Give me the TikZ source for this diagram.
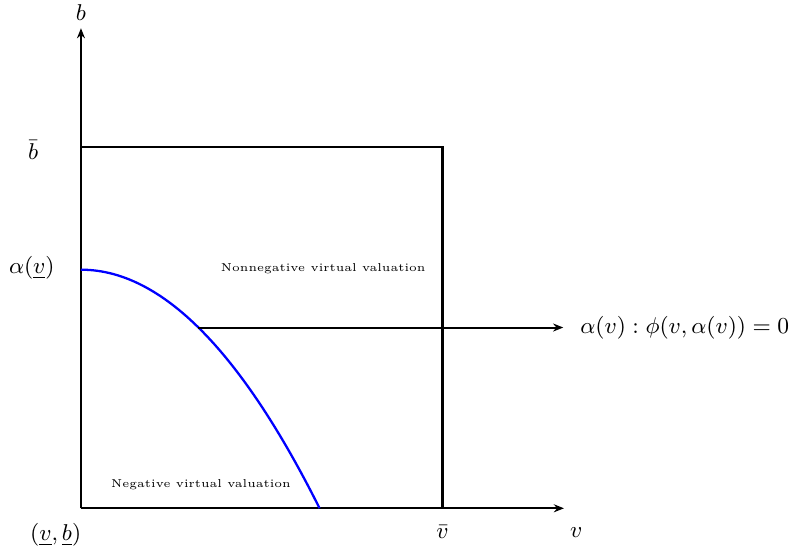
\documentclass[tikz,border=0pt]{standalone}
\usepackage{amsmath,amssymb}
\usepackage{tikz}
\usetikzlibrary{positioning,arrows.meta,calc}

\begin{document}
\begin{tikzpicture}[
  every node/.style={font=\fontsize{9.5}{11}\selectfont},
  ax/.style={-{Stealth[length=1.4mm,width=1.1mm]}, line width=0.8pt},
  bd/.style={line width=0.8pt},
  cv/.style={blue, line width=0.9pt},
  lbl/.style={font=\fontsize{4.5}{5.5}\selectfont},
]
  \useasboundingbox (-1.12,-0.595) rectangle (9.82,7.03);

  % Axes
  \coordinate (O) at (0,0);
  \coordinate (xend) at (6.68,0);
  \coordinate (yend) at (0,6.64);
  \draw[ax] (O) -- (xend);
  \draw[ax] (O) -- (yend);
  \node (blab) at (0,6.86) {$b$};
  \node (vlab) at (6.85,-0.33) {$v$};
  \node (olab) at (-0.35,-0.37) {$(\underline{v},\underline{b})$};

  % Upper bounds
  \coordinate (btop) at (0,5);
  \coordinate (corner) at (5,5);
  \coordinate (vtop) at (5,0);
  \draw[bd] (btop) -- (corner) -- (vtop);
  \node (bbar) at (-0.66,4.96) {$\bar{b}$};
  \node (vbar) at (5,-0.33) {$\bar{v}$};

  % Zero virtual valuation curve
  \draw[cv] plot[domain=0:3.3, samples=60] (\x, {3.3 - \x*\x/3.3});
  \node (alab) at (-0.68,3.32) {$\alpha(\underline{v})$};

  % Pointer to the curve
  \coordinate (cut) at (1.625,2.5);
  \coordinate (tip) at (6.67,2.5);
  \draw[ax] (cut) -- (tip);
  \node[anchor=west, inner sep=0pt] (phi) at (6.9,2.5) {$\alpha(v) : \phi(v, \alpha(v)) = 0$};

  % Regions
  \node[lbl] (nonneg) at (3.35,3.32) {Nonnegative virtual valuation};
  \node[lbl] (neg) at (1.66,0.32) {Negative virtual valuation};
\end{tikzpicture}
\end{document}
